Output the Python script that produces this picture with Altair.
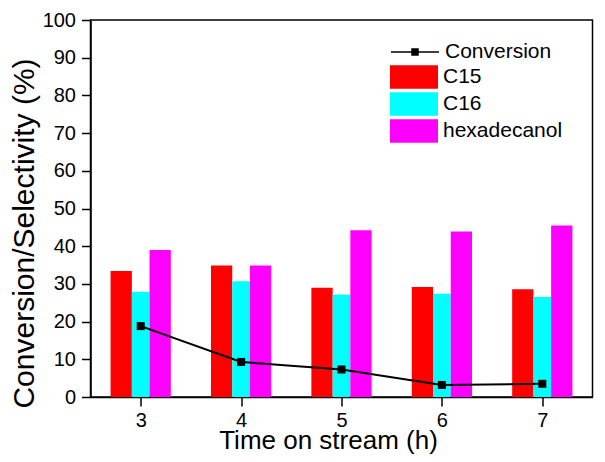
import altair as alt
import pandas as pd

# ---- data ----
times = [3, 4, 5, 6, 7]
c15 = [33.4, 34.9, 29.0, 29.2, 28.6]
c16 = [27.9, 30.7, 27.2, 27.4, 26.5]
hexadecanol = [39.0, 34.9, 44.2, 43.9, 45.5]
conversion = [18.8, 9.3, 7.3, 3.2, 3.5]

products = ["C15", "C16", "hexadecanol"]
colors = ["#ff0000", "#00ffff", "#ff00ff"]
# bar edges relative to the tick (style)
edges = {"C15": (-0.30, -0.088), "C16": (-0.088, 0.088), "hexadecanol": (0.088, 0.30)}

rows = []
for name, vals in zip(products, [c15, c16, hexadecanol]):
    for t, v in zip(times, vals):
        rows.append({"time": t, "product": name, "value": v,
                     "x0": t + edges[name][0], "x1": t + edges[name][1]})
bars_df = pd.DataFrame(rows)
conv_df = pd.DataFrame({"time": times, "value": conversion, "measure": ["Conversion"] * len(times)})

FONT = "Liberation Sans"
XT = "Time on stream (h)"
YT = "Conversion/Selectivity (%)"
xscale = alt.Scale(domain=[2.5, 7.5], nice=False, zero=False)
yscale = alt.Scale(domain=[0, 100], nice=False)
xaxis = alt.Axis(values=times, title=XT, format="d", titleX=237.5, titleY=51,
                 titleBaseline="alphabetic", titleAnchor="middle", titleAlign="center")
yaxis = alt.Axis(values=list(range(0, 101, 10)), title=YT, titleX=-57, titleY=213,
                 titleBaseline="alphabetic", titleAngle=270, titleAlign="center")

bars = alt.Chart(bars_df).mark_bar().encode(
    x=alt.X("x0:Q", scale=xscale, axis=xaxis, title=XT),
    x2="x1:Q",
    y=alt.Y("value:Q", scale=yscale, axis=yaxis, title=YT),
    y2=alt.datum(0),
    fill=alt.Fill("product:N",
                  scale=alt.Scale(domain=products, range=colors),
                  legend=alt.Legend(orient="none", legendX=299.5, legendY=45, title=None,
                                    symbolType="M-2,-0.97H2V0.97H-2Z", symbolSize=576,
                                    symbolStrokeWidth=0, symbolOffset=12, labelOffset=17,
                                    labelFontSize=21, labelFont=FONT, labelColor="black",
                                    rowPadding=3, padding=0, symbolOpacity=1)),
)

line = alt.Chart(conv_df).mark_line(strokeWidth=2).encode(
    x=alt.X("time:Q", scale=xscale, axis=xaxis, title=XT),
    y=alt.Y("value:Q", scale=yscale, axis=yaxis, title=YT),
    stroke=alt.Stroke("measure:N",
                      scale=alt.Scale(domain=["Conversion"], range=["black"]),
                      legend=alt.Legend(orient="none", legendX=299.5, legendY=19, title=None,
                                        symbolType="M-2,0H2M-0.25,-0.25H0.25V0.25H-0.25Z",
                                        symbolSize=576, symbolStrokeWidth=1.5,
                                        symbolFillColor="black", symbolStrokeColor="black",
                                        symbolOffset=12, labelOffset=17,
                                        labelFontSize=21, labelFont=FONT, labelColor="black",
                                        padding=0, symbolOpacity=1)),
)

points = alt.Chart(conv_df).mark_point(shape="square", filled=True, size=64,
                                        color="black", opacity=1).encode(
    x=alt.X("time:Q", scale=xscale, axis=xaxis, title=XT),
    y=alt.Y("value:Q", scale=yscale, axis=yaxis, title=YT),
)

chart = alt.layer(bars, line, points).properties(
    width=502, height=377,
    autosize=alt.AutoSizeParams(type="none"),
    padding={"left": 82.5, "top": 12, "right": 2, "bottom": 57},
    background="white",
).configure_view(
    stroke="black", strokeWidth=1.5
).configure_axis(
    grid=False,
    domainColor="black", domainWidth=1.5,
    tickColor="black", tickWidth=1.5, tickSize=9,
    labelFont=FONT, labelFontSize=20, labelColor="black",
    titleFont=FONT, titleFontWeight="normal", titleColor="black",
).configure_axisX(
    labelPadding=4, titleFontSize=26,
).configure_axisY(
    labelPadding=6, titleFontSize=30,
)

chart.save("out.html", embed_options={"renderer": "svg", "actions": False})
